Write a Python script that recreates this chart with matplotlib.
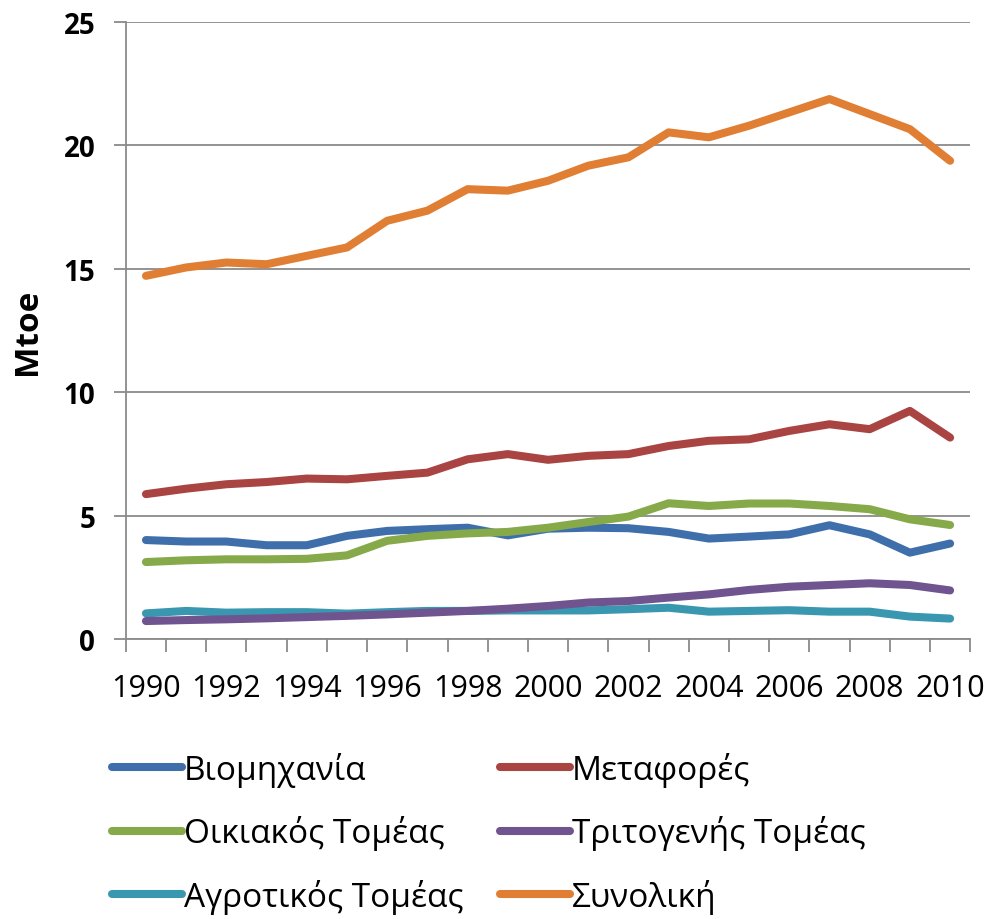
import numpy as np
import matplotlib.pyplot as plt

years = list(range(1990, 2011))

industry = [4.02, 3.96, 3.96, 3.81, 3.81, 4.19, 4.39, 4.46, 4.52, 4.21, 4.48,
            4.52, 4.50, 4.35, 4.08, 4.16, 4.25, 4.62, 4.25, 3.51, 3.88]
transport = [5.88, 6.10, 6.28, 6.37, 6.51, 6.48, 6.62, 6.75, 7.29, 7.50, 7.27,
             7.43, 7.50, 7.83, 8.04, 8.10, 8.44, 8.71, 8.51, 9.25, 8.17]
residential = [3.13, 3.20, 3.24, 3.24, 3.26, 3.40, 3.99, 4.19, 4.29, 4.35, 4.52,
               4.75, 4.97, 5.51, 5.40, 5.50, 5.50, 5.40, 5.27, 4.86, 4.63]
tertiary = [0.74, 0.78, 0.81, 0.85, 0.90, 0.95, 1.01, 1.08, 1.15, 1.24, 1.35,
            1.49, 1.55, 1.69, 1.82, 2.00, 2.13, 2.20, 2.27, 2.20, 1.98]
agriculture = [1.05, 1.15, 1.08, 1.10, 1.10, 1.04, 1.10, 1.15, 1.15, 1.17, 1.17,
               1.17, 1.22, 1.28, 1.12, 1.15, 1.18, 1.12, 1.12, 0.92, 0.84]
total = [14.72, 15.06, 15.26, 15.19, 15.53, 15.87, 16.95, 17.36, 18.23, 18.17, 18.57,
         19.18, 19.52, 20.53, 20.33, 20.80, 21.34, 21.88, 21.27, 20.66, 19.38]

labels = ["Βιομηχανία", "Οικιακός Τομέας", "Αγροτικός Τομέας",
          "Μεταφορές", "Τριτογενής Τομέας", "Συνολική"]
series = [industry, residential, agriculture, transport, tertiary, total]
colors = ["#3F6FAA", "#86A94A", "#3A97B0", "#A94442", "#6F548F", "#E07F33"]

plt.rcParams['font.family'] = ['Open Sans', 'DejaVu Sans']

fig = plt.figure(figsize=(9.91, 9.2), dpi=100)
ax = fig.add_axes([0.127, 0.304, 0.852, 0.671])

for vals, lab, col in zip(series, labels, colors):
    ax.plot(years, vals, color=col, lw=5.8, label=lab, solid_capstyle='round')

ax.set_xlim(1989.5, 2010.5)
ax.set_ylim(0, 25)
ax.set_yticks([0, 5, 10, 15, 20, 25])
ax.yaxis.grid(True, color='#8a8a8a', lw=1.3)
ax.set_axisbelow(True)
for s in ['top', 'right']:
    ax.spines[s].set_visible(False)
for s in ['left', 'bottom']:
    ax.spines[s].set_color('#8a8a8a')
    ax.spines[s].set_linewidth(1.3)

ax.set_xticks(years[::2])
ax.set_xticks(np.arange(1989.5, 2011, 1), minor=True)
ax.tick_params(axis='x', which='major', length=0, pad=24, labelsize=22)
ax.tick_params(axis='x', which='minor', length=9, width=1.3, color='#8a8a8a')
ax.tick_params(axis='y', length=9, width=1.3, color='#8a8a8a', labelsize=20, pad=13)
for t in ax.get_yticklabels():
    t.set_fontweight('bold')

ax.set_ylabel("Mtoe", fontsize=24, fontweight='bold', labelpad=14)

fig.legend(loc='upper left', bbox_to_anchor=(0.083, 0.214), ncol=2, frameon=False,
           fontsize=24, handlelength=2.1, handletextpad=0.05, columnspacing=1.1,
           labelspacing=0.85)

fig.savefig("out.png", dpi=100)
